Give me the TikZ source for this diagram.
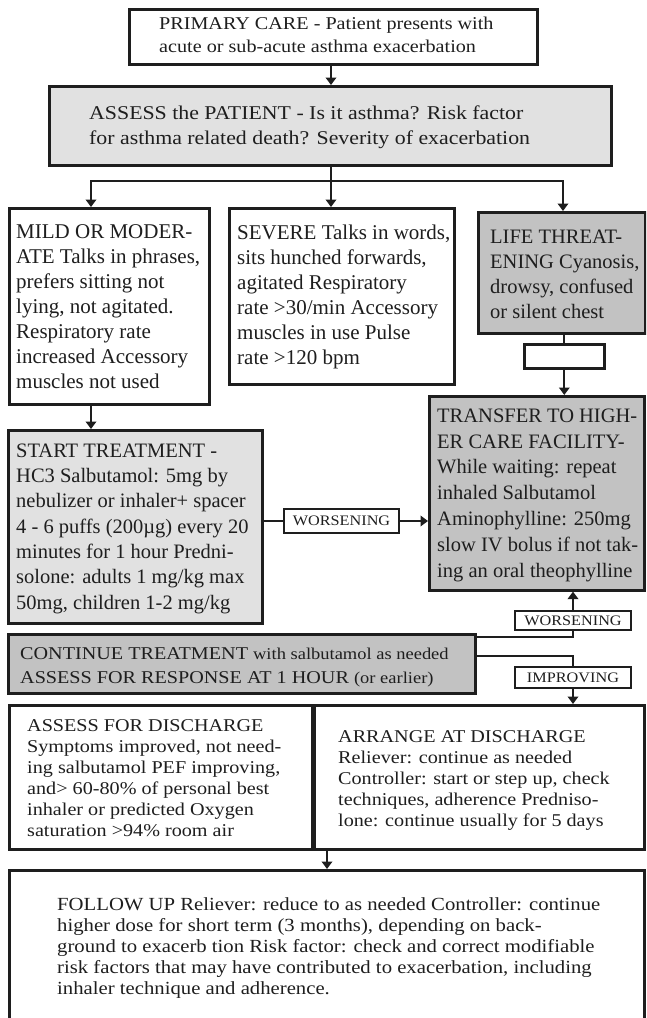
\documentclass[tikz,border=0pt]{standalone}
\usepackage{fontspec}
\setmainfont{Liberation Serif}
\newfontfamily\widefont[FakeStretch=1.12]{Liberation Serif}
\usetikzlibrary{arrows.meta,calc}

\definecolor{inkc}{HTML}{1E1E1E}
\definecolor{palefill}{HTML}{E1E1E1}
\definecolor{grayfill}{HTML}{C2C2C2}

\newcommand{\fsz}[2]{\fontsize{#1pt}{#2pt}\selectfont}

% text nodes are placed by the baseline of their last line
\tikzset{
  box/.style={draw=inkc, line width=2.6pt, inner sep=0pt, anchor=north west},
  lbl/.style={draw=inkc, line width=2pt, fill=white, inner sep=0pt, anchor=north west,
              text=inkc, font=\widefont\fsz{14.5}{16}},
  txt/.style={anchor=base west, align=left, inner sep=0pt, text=inkc},
  body/.style={txt, font=\fsz{21}{25}},
  conn/.style={draw=inkc, line width=2pt},
  arr/.style={conn, -{Triangle[length=7.5pt,width=10.5pt]}},
}

\begin{document}
\begin{tikzpicture}[x=1pt,y=-1pt]
\useasboundingbox (0,0) rectangle (646,1018);
\fill[white] (0,0) rectangle (646,1018);
\clip (0,0) rectangle (646,1018);

% ---- boxes ----
\node[box, minimum width=408pt, minimum height=55pt] (top) at (128,8) {};
\node[box, fill=palefill, minimum width=562pt, minimum height=79pt] (assess) at (48,85) {};
\node[box, minimum width=200pt, minimum height=196pt] (mild) at (8,207) {};
\node[box, minimum width=225pt, minimum height=176pt] (severe) at (228,207) {};
\node[box, fill=grayfill, minimum width=167pt, minimum height=121pt] (life) at (477,211) {};
\node[box, minimum width=80pt, minimum height=24pt] (gap) at (523,343) {};
\node[box, fill=grayfill, minimum width=215pt, minimum height=194pt] (transfer) at (428,395) {};
\node[box, fill=palefill, minimum width=254pt, minimum height=193pt] (start) at (7,429) {};
\node[lbl, minimum width=115pt, minimum height=24pt] (wmid) at (283,508) {WORSENING};
\node[box, fill=grayfill, minimum width=467pt, minimum height=59pt] (continue) at (7,633) {};
\node[lbl, minimum width=116pt, minimum height=19pt] (wup) at (514,610) {WORSENING};
\node[lbl, minimum width=116pt, minimum height=21pt] (imp) at (514,666) {IMPROVING};
\node[box, minimum width=303pt, minimum height=144pt] (adis) at (8,704) {};
\node[box, minimum width=330pt, minimum height=144pt] (arrange) at (313,704) {};
\node[box, minimum width=635pt, minimum height=170pt] (follow) at (8,869) {};

% ---- texts ----
\node[txt, font=\widefont\fsz{18}{23}] (top-t) at (159,52)
  {PRIMARY CARE - Patient presents with\\acute or sub-acute asthma exacerbation};
\node[txt, font=\widefont\fsz{19.5}{25}] (assess-t) at (89,144)
  {ASSESS the PATIENT - Is it asthma? Risk factor\\for asthma related death? Severity of exacerbation};
\node[body] (mild-t) at (16,388)
  {MILD OR MODER-\\ATE Talks in phrases,\\prefers sitting not\\lying, not agitated.\\Respiratory rate\\increased Accessory\\muscles not used};
\node[body] (severe-t) at (237,364)
  {SEVERE Talks in words,\\sits hunched forwards,\\agitated Respiratory\\rate >30/min Accessory\\muscles in use Pulse\\rate >120 bpm};
\node[body, font=\fsz{20.5}{25}] (life-t) at (490,318)
  {LIFE THREAT-\\ENING Cyanosis,\\drowsy, confused\\or silent chest};
\node[body, font=\fsz{20.5}{25.8}] (transfer-t) at (437,577)
  {TRANSFER TO HIGH-\\ER CARE FACILITY-\\While waiting: repeat\\inhaled Salbutamol\\Aminophylline: 250mg\\slow IV bolus if not tak-\\ing an oral theophylline};
\node[body, font=\fsz{20.5}{25.3}] (start-t) at (16,609)
  {START TREATMENT -\\HC3 Salbutamol: 5mg by\\nebulizer or inhaler+ spacer\\4 - 6 puffs (200µg) every 20\\minutes for 1 hour Predni-\\solone: adults 1 mg/kg max\\50mg, children 1-2 mg/kg};
\node[txt, font=\widefont\fsz{18}{24}] (continue-t) at (20,683)
  {CONTINUE TREATMENT {\fsz{16.5}{24}with salbutamol as needed}\\ASSESS FOR RESPONSE AT 1 HOUR {\fsz{16.5}{24}(or earlier)}};
\node[txt, font=\widefont\fsz{18}{21}] (adis-t) at (27,836)
  {ASSESS FOR DISCHARGE\\Symptoms improved, not need-\\ing salbutamol PEF improving,\\and> 60-80\% of personal best\\inhaler or predicted Oxygen\\saturation >94\% room air};
\node[txt, font=\widefont\fsz{18}{21}] (arrange-t) at (338,826)
  {ARRANGE AT DISCHARGE\\Reliever: continue as needed\\Controller: start or step up, check\\techniques, adherence Predniso-\\lone: continue usually for 5 days};
\node[txt, font=\widefont\fsz{18.5}{21}] (follow-t) at (57,994)
  {FOLLOW UP Reliever: reduce to as needed Controller: continue\\higher dose for short term (3 months), depending on back-\\ground to exacerb tion Risk factor: check and correct modifiable\\risk factors that may have contributed to exacerbation, including\\inhaler technique and adherence.};

% ---- connectors ----
\coordinate (bl) at (91,181);
\coordinate (bm) at (331,181);
\coordinate (br) at (563,181);
\draw[arr] (top.south -| bm) -- (assess.north -| bm);
\draw[conn] (assess.south -| bm) -- (bm);
\draw[conn, line cap=rect] (bl) -- (br);
\draw[arr] (bl) -- (mild.north -| bl);
\draw[arr] (bm) -- (severe.north -| bm);
\draw[arr] (br) -- (life.north -| br);

\draw[arr] (mild.south -| bl) -- (start.north -| bl);
\draw[conn] (life.south -| gap.north) -- (gap.north);
\draw[arr] (gap.south) -- (transfer.north -| gap.south);

\draw[conn] (start.east |- wmid.west) -- (wmid.west);
\draw[arr] (wmid.east) -- (transfer.west |- wmid.east);

\coordinate (cw) at ($(continue.north east)+(0,4)$);
\draw[conn] (cw) -| (wup.south);
\draw[arr] (wup.north) -- (transfer.south -| wup.north);
\coordinate (ci) at ($(continue.north east)+(0,23)$);
\draw[conn] (ci) -| (imp.north);
\draw[arr] (imp.south) -- (arrange.north -| imp.south);

\coordinate (dj) at ($(arrange.south west)+(14,0)$);
\draw[arr] (dj) -- (follow.north -| dj);
\end{tikzpicture}
\end{document}
